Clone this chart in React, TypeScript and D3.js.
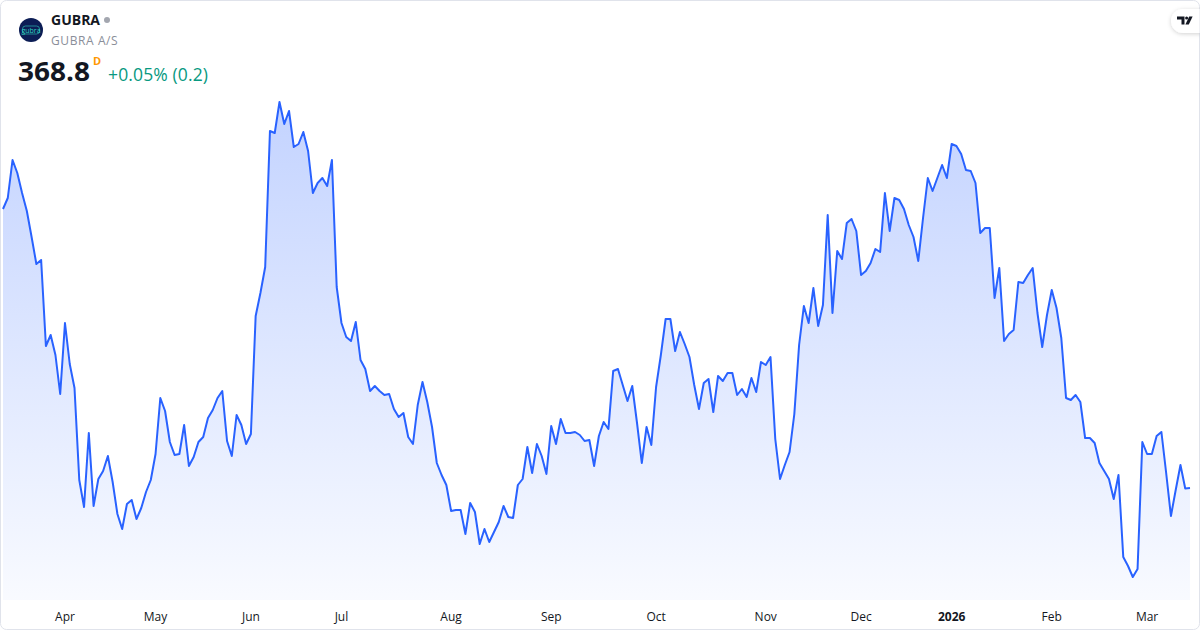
import React, { useMemo } from "react";
import * as d3 from "d3";

// ---- Data ----
const symbol = "GUBRA";
const companyName = "GUBRA A/S";
const lastPrice = "368.8";
const changeText = "+0.05% (0.2)";

const startDate = "2025-03-13";
const holidays = [
  "2025-04-17", "2025-04-18", "2025-04-21", "2025-05-29", "2025-05-30",
  "2025-06-05", "2025-06-09", "2025-12-24", "2025-12-25", "2025-12-26",
  "2025-12-31", "2026-01-01",
];

const closes = [
  480.4, 484.8, 500.0, 494.8, 486.8, 479.6, 469.2, 458.4, 460.0, 425.6,
  430.0, 422.0, 406.4, 434.8, 418.4, 408.8, 372.0, 361.2, 390.8, 361.6,
  372.4, 375.6, 381.6, 371.2, 358.4, 352.4, 362.4, 364.0, 356.4, 360.8,
  367.2, 372.0, 382.4, 404.8, 399.6, 387.2, 382.0, 382.4, 394.0, 377.6,
  381.2, 387.2, 389.2, 396.8, 400.0, 404.8, 407.6, 387.6, 381.6, 398.0,
  394.0, 386.4, 390.4, 437.6, 446.8, 457.2, 511.6, 510.8, 523.2, 514.4,
  519.6, 505.2, 506.4, 511.2, 503.6, 486.8, 490.8, 492.8, 489.6, 500.0,
  449.2, 434.8, 429.2, 427.6, 435.2, 420.0, 416.4, 407.6, 409.6, 407.6,
  406.0, 406.4, 400.4, 397.2, 398.8, 389.2, 386.4, 402.0, 411.2, 403.2,
  393.2, 378.8, 374.0, 370.0, 359.6, 360.0, 360.0, 350.4, 362.8, 359.2,
  346.4, 352.4, 347.2, 351.2, 355.2, 361.6, 357.2, 356.8, 370.0, 372.4,
  385.2, 374.8, 386.4, 381.6, 374.4, 393.6, 386.4, 396.4, 390.8, 390.8,
  391.2, 390.0, 387.6, 388.0, 377.6, 389.6, 395.2, 392.4, 415.6, 416.4,
  410.0, 403.6, 409.6, 394.8, 378.8, 393.2, 386.0, 409.2, 422.0, 436.4,
  436.4, 423.6, 431.2, 426.4, 421.2, 410.0, 400.4, 410.8, 412.4, 399.2,
  413.6, 411.6, 414.8, 414.8, 406.0, 408.4, 405.2, 412.8, 407.2, 419.2,
  418.0, 421.2, 388.4, 372.4, 378.0, 383.2, 398.4, 426.0, 441.6, 434.8,
  448.8, 433.6, 442.0, 478.0, 438.8, 463.6, 460.4, 474.8, 476.4, 471.6,
  454.0, 455.6, 458.8, 464.4, 463.2, 486.8, 471.6, 484.8, 484.0, 480.4,
  474.0, 469.2, 459.6, 476.8, 492.8, 487.6, 492.8, 498.0, 492.8, 506.4,
  505.6, 502.4, 496.0, 495.6, 490.8, 470.8, 472.8, 472.8, 444.8, 456.8,
  427.6, 430.4, 432.0, 451.2, 450.8, 454.0, 456.8, 438.8, 425.2, 438.0,
  448.0, 440.8, 428.8, 404.8, 404.0, 406.0, 403.2, 388.8, 388.8, 386.8,
  378.8, 375.6, 372.4, 364.4, 374.0, 341.2, 337.6, 333.2, 336.4, 387.2,
  382.4, 382.4, 389.6, 391.2, 374.8, 357.6, 368.0, 378.0, 368.6, 368.8,
];

const monthLabels = ["Jan", "Feb", "Mar", "Apr", "May", "Jun", "Jul", "Aug", "Sep", "Oct", "Nov", "Dec"];

// ---- Layout ----
const W = 1200;
const H = 630;
const FONT = "'Open Sans', 'Noto Sans', sans-serif";

function tradingDays(start: string, count: number): Date[] {
  const out: Date[] = [];
  const hol = new Set(holidays);
  const d = new Date(start + "T12:00:00Z");
  while (out.length < count) {
    const dow = d.getUTCDay();
    const key = d.toISOString().slice(0, 10);
    if (dow !== 0 && dow !== 6 && !hol.has(key)) out.push(new Date(d));
    d.setUTCDate(d.getUTCDate() + 1);
  }
  return out;
}

export default function App() {
  const dates = useMemo(() => tradingDays(startDate, closes.length), []);
  const keys = dates.map((d) => d.toISOString().slice(0, 10));

  const x = d3.scalePoint<string>().domain(keys).range([3, 1190]).padding(0);
  const ext = d3.extent(closes) as [number, number];
  const y = d3.scaleLinear().domain(ext).range([577, 102]);
  const bottom = 600;

  const data = closes.map((v, i) => ({ k: keys[i], v }));
  const line = d3.line<{ k: string; v: number }>().x((d) => x(d.k)!).y((d) => y(d.v));
  const area = d3
    .area<{ k: string; v: number }>()
    .x((d) => x(d.k)!)
    .y0(bottom)
    .y1((d) => y(d.v));

  // first trading day of each month (skip the partial first month)
  const ticks: { k: string; label: string; bold: boolean }[] = [];
  dates.forEach((d, i) => {
    if (i === 0) return;
    if (d.getUTCMonth() !== dates[i - 1].getUTCMonth()) {
      const m = d.getUTCMonth();
      ticks.push({
        k: keys[i],
        label: m === 0 ? String(d.getUTCFullYear()) : monthLabels[m],
        bold: m === 0,
      });
    }
  });

  return (
    <svg
      width={W}
      height={H}
      viewBox={`0 0 ${W} ${H}`}
      style={{ position: "absolute", left: 0, top: 0, background: "#ffffff" }}
    >
      <defs>
        <linearGradient id="areaGrad" gradientUnits="userSpaceOnUse" x1="0" y1="102" x2="0" y2={bottom}>
          <stop offset="0%" stopColor="#2962ff" stopOpacity={0.28} />
          <stop offset="100%" stopColor="#2962ff" stopOpacity={0.03} />
        </linearGradient>
        <filter id="pillShadow" x="-50%" y="-50%" width="200%" height="200%">
          <feDropShadow dx="0" dy="1" stdDeviation="2" floodColor="#000" floodOpacity="0.18" />
        </filter>
        <clipPath id="frame">
          <rect x={0.5} y={0.5} width={W - 1} height={H - 1} rx={6} />
        </clipPath>
      </defs>

      <rect x={0.5} y={0.5} width={W - 1} height={H - 1} rx={6} fill="#ffffff" stroke="#e0e3eb" />

      <g clipPath="url(#frame)">
        <path d={area(data) || ""} fill="url(#areaGrad)" />
        <path d={line(data) || ""} fill="none" stroke="#2962ff" strokeWidth={2} strokeLinejoin="round" />

        {ticks.map((t) => (
          <text
            key={t.k}
            x={x(t.k)}
            y={621}
            textAnchor="middle"
            fontFamily={FONT}
            fontSize={12}
            fontWeight={t.bold ? 700 : 400}
            fill="#131722"
          >
            {t.label}
          </text>
        ))}

        {/* TradingView badge */}
        <rect x={1171} y={9} width={44} height={24} rx={12} fill="#ffffff" filter="url(#pillShadow)" />
        <g fill="#131722">
          <path d="M1177,16.5 H1184.5 V24.5 H1181.5 V19.5 H1177 Z" />
          <circle cx={1186.6} cy={18} r={1.5} />
          <path d="M1189.2,16.5 H1192.6 L1188.8,24.5 H1185.4 Z" />
        </g>
      </g>

      {/* Header */}
      <circle cx={31} cy={30} r={12} fill="#0c1d55" />
      <rect x={22.5} y={26} width={17} height={8} rx={3} fill="none" stroke="#2fd1c0" strokeWidth={0.6} />
      <text x={31} y={32.6} textAnchor="middle" fontFamily={FONT} fontSize={7} fill="#2fd1c0">
        gubra
      </text>

      <text x={51} y={25} fontFamily={FONT} fontSize={14} fontWeight={700} fill="#131722">
        {symbol}
      </text>
      <circle cx={107} cy={20} r={3} fill="#a3a6af" />
      <text x={51} y={45} fontFamily={FONT} fontSize={12} letterSpacing={0.6} fill="#8a8e99">
        {companyName}
      </text>

      <text x={18} y={81} fontFamily={FONT} fontSize={26} fontWeight={700} fill="#131722" textLength={72} lengthAdjust="spacingAndGlyphs">
        {lastPrice}
      </text>
      <text x={93} y={65} fontFamily={FONT} fontSize={11} fontWeight={700} fill="#ff9800">
        D
      </text>
      <text x={108} y={81} fontFamily={FONT} fontSize={17.5} fill="#089981" textLength={100}>
        {changeText}
      </text>
    </svg>
  );
}
